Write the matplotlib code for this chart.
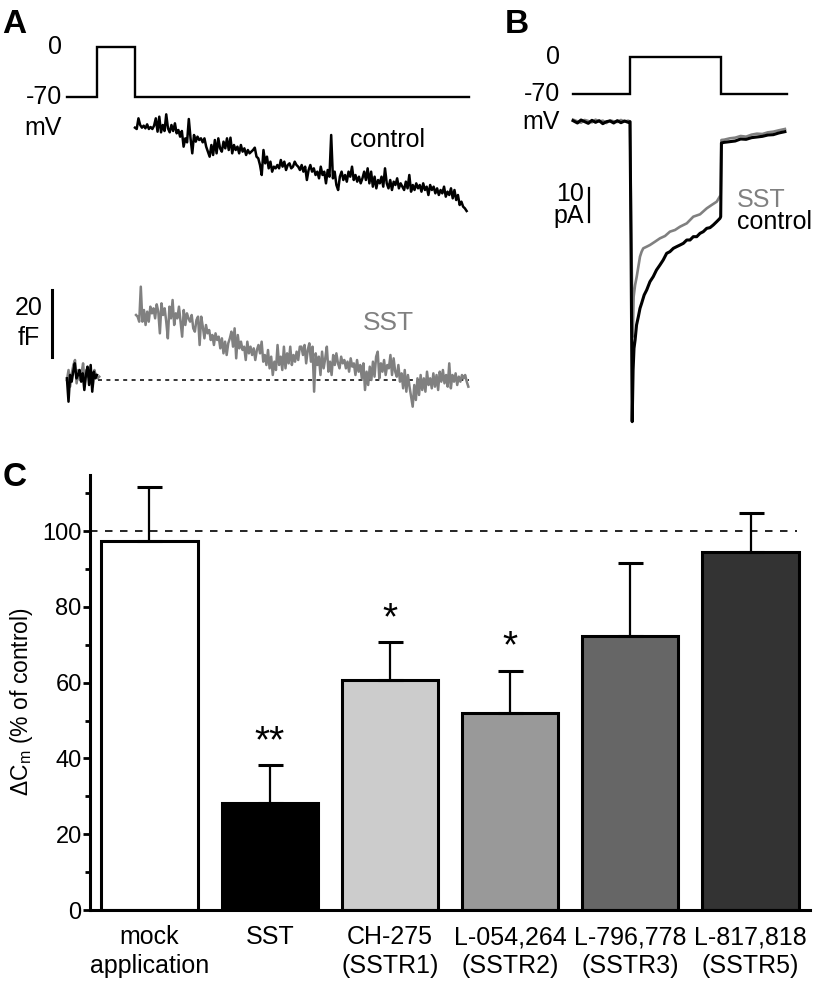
import numpy as np
import matplotlib
matplotlib.use('Agg')
import matplotlib.pyplot as plt

plt.rcParams['font.family'] = ['Liberation Sans', 'DejaVu Sans']
plt.rcParams['mathtext.fontset'] = 'custom'
plt.rcParams['mathtext.rm'] = 'Liberation Sans'
plt.rcParams['mathtext.it'] = 'Liberation Sans:italic'

GRAY = '#808080'
FS = 18  # trace annotation size

# ---------------- panel A: capacitance traces (fF), time in s ----------------
stim_a_t = [-0.4, 0.0, 0.0, 0.5, 0.5, 4.95]
stim_a_mv = [-70, -70, 0, 0, -70, -70]

pre_ctrl_a = [0.5, -6.5, 1.5, -0.5, 2.5, 5.0, 0.5, 1.5, 3.0, -0.5, 2.0, -3.0, 1.5,
              4.0, -1.5, 4.5, -3.5, 2.5, 0.5, 1.5]
pre_sst_a = [0.0, 3.0, -2.0, 2.0, 4.5, 6.0, -1.0, 3.0, 0.0, 2.0, 5.0, -1.0, 3.0,
             1.0, 2.0, 0.0, -2.0, 3.0, 1.0, 0.5, 1.0]

ctrl_a = [75.7, 75.3, 78.5, 76.5, 75.7, 76.3, 75.5, 76.7, 75.3, 75.9, 75.3, 76.3, 78.5,
          74.5, 79.0, 74.3, 76.5, 74.7, 79.7, 75.5, 74.3, 76.5, 74.7, 77.0, 74.0, 75.0,
          73.0, 74.7, 70.0, 72.5, 71.3, 78.3, 72.5, 68.0, 73.5, 71.5, 73.0, 72.0, 72.5,
          71.3, 72.5, 70.0, 68.5, 67.0, 70.5, 67.5, 72.0, 68.0, 72.5, 69.5, 68.5, 71.5,
          69.5, 72.5, 69.0, 72.7, 68.0, 70.5, 69.0, 70.0, 68.0, 70.5, 68.5, 69.5, 67.5,
          69.0, 68.0, 68.5, 69.0, 69.7, 67.0, 66.5, 64.5, 61.5, 69.0, 65.0, 67.0, 63.5,
          65.5, 62.5, 64.0, 63.5, 64.5, 63.5, 66.0, 64.0, 65.5, 63.0, 64.5, 65.0, 63.5,
          64.0, 65.5,
          64.5, 64.0, 63.0, 64.5, 62.5, 64.0, 60.0, 63.0, 64.5, 62.5, 63.5, 61.5, 62.5,
          60.5, 64.0, 61.5, 62.5, 59.0, 63.0, 61.0, 73.5, 60.5, 62.5, 58.5, 57.0, 61.0,
          62.5, 60.0, 61.5, 59.5, 62.5, 61.0, 64.0, 60.0, 61.5, 59.5, 61.0, 59.0, 60.5,
          62.5, 60.0, 63.5, 59.0, 62.5, 58.0, 61.0, 57.5, 60.0, 59.0, 61.0, 58.0, 63.5,
          59.0, 57.5, 60.0, 57.0, 59.5, 58.5, 60.5, 57.5, 59.0, 58.0, 57.0, 59.5, 57.5,
          61.5, 56.5, 58.5, 57.0, 59.0, 57.5, 58.5, 56.5, 59.0, 57.0, 58.0, 55.5, 58.5,
          57.0, 58.0, 56.0, 57.5, 55.5, 57.0, 56.0, 58.0, 55.0, 56.5, 55.5, 57.5, 54.5,
          57.0, 54.0, 55.5, 52.5, 53.5, 52.0, 51.5, 50.7]

sst_a = [19.5, 19.0, 17.5, 28.0, 17.5, 21.0, 16.5, 20.5, 17.5, 22.0, 20.0, 21.5, 18.5,
         22.7, 20.5, 14.0, 23.0, 19.5, 21.5, 17.5, 12.5, 22.0, 18.5, 24.0, 16.5, 20.0,
         18.5, 22.0, 17.5, 13.0, 21.0, 16.5, 20.0, 18.5, 17.5, 19.5, 15.5, 14.5, 18.0,
         19.0, 10.5, 19.0, 16.0, 12.5, 16.5, 14.0, 15.0, 12.0, 13.5, 10.5, 14.0, 12.0,
         13.0, 9.5, 12.5, 8.0, 11.5, 7.5, 11.0, 12.5, 14.5, 10.0, 15.5, 6.5, 13.5, 9.5,
         11.5, 9.0, 10.0, 6.0, 11.5, 8.0, 10.0, 7.5, 9.5, 6.0, 9.0, 10.5, 8.0, 11.5, 5.5,
         7.5, 4.5, 9.0, 3.5, 7.0, 1.5, 5.5, 3.0, 10.5, 4.5, 7.0, 3.0, 10.0, 3.5, 8.0, 5.0,
         10.0, 4.5, 7.5, 5.5, 8.5, 6.0, 10.0,
         10.0, 7.5, 10.5, 5.0, 9.0, 11.0, 5.5, 10.0, -3.5, 8.0, 4.5, 7.0, 1.5, 8.5, 3.5,
         6.5, 10.0, 2.5, 5.5, 1.5, 7.5, 4.5, 8.0, 5.0, 3.5, 7.0, 5.0, 6.0, 3.5, 5.5, 2.5,
         6.5, 4.0, 5.0, 1.5, 6.0, 2.5, 4.5, 0.5, 5.0, -3.0, 2.5, -1.5, 4.0, 0.0, 5.5, 1.0,
         7.0, 8.5, 0.5, 5.0, 2.5, 6.0, 1.5, 4.5, 3.5, 7.5, 1.5, 6.5, 2.5, 1.0, 4.5, -0.5,
         2.0, -2.5, 3.0, -3.5, 1.5, -2.0, -5.0, -8.0, -1.5, -6.0, 0.5, -4.5, 1.5, -3.0,
         0.5, -3.5, 2.5, -1.5, 0.5, -2.5, 2.0, -2.0, 1.5, -3.0, 2.5, -0.5, 3.0, -1.0, 1.5,
         -2.0, 5.0, -2.5, 1.5, -0.5, 2.0, -1.5, 1.0, -0.5, 1.5, 0.5, 1.5, -0.5, -2.0]

# ---------------- panel B: Ca2+ currents (pA), time in ms ----------------
stim_b_t = [-31.3, 0, 0, 50, 50, 86.7]
stim_b_mv = [-70, -70, 0, 0, -70, -70]

ctrl_b_t = [-31.4, -29, -27, -25, -23, -21, -19, -17, -15, -13, -11, -9, -7, -5, -3, -1, 0,
            0.6, 1.2, 1.7, 2.2, 2.8, 3.6, 4.6, 5.5, 6.4, 7.8, 9.2, 11.0, 12.8, 14.6, 16.5,
            18.3, 20.2, 22.0, 23.9, 25.7, 27.6, 29.4, 31.3, 33.1, 34.9, 36.8, 38.6, 40.4,
            42.3, 44.1, 45.9, 47.8, 49.6, 50.0,
            50.4, 52, 55, 58, 61, 64, 67, 70, 73, 76, 79, 82, 85.4]
ctrl_b = [0.3, -0.4, 0.5, 0.0, -0.5, 0.4, -0.2, 0.3, -0.6, 0.0, 0.2, -0.4, 0.3, -0.3, 0.2,
          -0.2, 0.0,
          -40, -90, -74.5, -68, -65.5, -61, -58.5, -56, -54.5, -52, -50.5, -48, -46.5,
          -44.5, -43, -41.5, -39.5, -39, -38, -37.5, -37, -36.5, -35.5, -35.5, -34.5,
          -34.5, -33.5, -33, -32, -31.8, -31, -30, -29, -28.5,
          -6.4, -6.2, -6.0, -5.8, -5.2, -5.3, -4.8, -4.6, -4.4, -4.0, -3.9, -3.4, -3.0]

sst_b_t = [-31.4, -29, -27, -25, -23, -21, -19, -17, -15, -13, -11, -9, -7, -5, -3, -1, 0,
           0.6, 1.5, 2.0, 2.8, 3.7, 4.6, 5.5, 6.4, 7.3, 9.2, 11.0, 13.8, 16.5, 19.3, 22.0,
           24.8, 27.6, 31.3, 34.9, 38.6, 42.3, 45.0, 47.8, 50.0,
           50.4, 52, 55, 58, 61, 64, 67, 70, 73, 76, 79, 82, 85.4]
sst_b = [0.6, 0.1, -0.3, 0.5, 0.2, -0.2, 0.6, 0.0, 0.3, -0.4, 0.4, 0.1, -0.1, 0.5, 0.0,
         0.3, 0.0,
         -30, -64.5, -52.5, -49, -46.5, -43.5, -40.5, -39, -38, -37.5, -37, -36, -35,
         -34.3, -33, -32.5, -31.5, -30.5, -28.5, -27.8, -26, -25, -24, -22,
         -5.5, -5.4, -5.0, -4.8, -4.3, -4.5, -3.9, -3.6, -3.7, -3.2, -3.0, -2.6, -2.2]

# ---------------- panel C: bar chart ----------------
groups = ['mock\napplication', 'SST', 'CH-275\n(SSTR1)', 'L-054,264\n(SSTR2)',
          'L-796,778\n(SSTR3)', 'L-817,818\n(SSTR5)']
means = [97.4, 28.2, 60.8, 51.9, 72.3, 94.5]
sems = [14.3, 10.1, 10.0, 11.3, 19.4, 10.2]
signif = ['', '**', '*', '*', '', '']
bar_colors = ['white', 'black', '#cccccc', '#999999', '#666666', '#333333']

W, H = 815, 997
fig = plt.figure(figsize=(W / 100, H / 100), dpi=100)


def px_axes(x0, y0, x1, y1):
    # axes placed by pixel box (top-left origin)
    ax = fig.add_axes([x0 / W, 1 - y1 / H, (x1 - x0) / W, (y1 - y0) / H])
    ax.set_axis_off()
    return ax


def fig_text(x, y, s, **kw):
    fig.text(x / W, 1 - y / H, s, **kw)


# panel letters
fig_text(2, 33, 'A', fontsize=24, fontweight='bold', va='baseline')
fig_text(505, 33, 'B', fontsize=24, fontweight='bold', va='baseline')
fig_text(3, 486, 'C', fontsize=24, fontweight='bold', va='baseline')

# ---- A ----
xl_a = (-0.891, 5.093)
axv = px_axes(30, 40, 480, 105)
axv.set_xlim(*xl_a)
axv.set_ylim(-81.6, 9.4)
axv.plot(stim_a_t, stim_a_mv, color='black', lw=1.7, solid_joinstyle='miter')
axv.text(-0.465, 0, '0', ha='right', va='center', fontsize=FS)
axv.text(-0.465, -70, '-70', ha='right', va='center', fontsize=FS)
axv.text(-0.465, -113.8, 'mV', ha='right', va='center', fontsize=FS)

axc = px_axes(30, 105, 480, 420)
axc.set_xlim(*xl_a)
axc.set_ylim(-12, 82.5)
axc.plot([0.01, 4.95], [0, 0], color='black', lw=1.1, linestyle=(0, (2.6, 2.9)))
axc.plot(np.linspace(-0.4, 0.03, len(pre_sst_a)), pre_sst_a, color=GRAY, lw=1.8)
axc.plot(np.linspace(-0.4, 0.0, len(pre_ctrl_a)), pre_ctrl_a, color='black', lw=1.8)
axc.plot(np.linspace(0.519, 4.938, len(sst_a)), sst_a, color=GRAY, lw=1.8)
axc.plot(np.linspace(0.505, 4.915, len(ctrl_a)), ctrl_a, color='black', lw=1.8)
axc.plot([-0.594, -0.594], [7, 27], color='black', lw=2.2)
axc.text(-0.904, 21.6, '20', ha='center', va='center', fontsize=FS)
axc.text(-0.904, 12.6, 'fF', ha='center', va='center', fontsize=FS)
axc.text(3.364, 72, 'control', ha='left', va='center', fontsize=FS)
axc.text(3.88, 17.1, 'SST', ha='center', va='center', fontsize=FS + 1, color=GRAY)

# ---- B ----
xl_b = (-77.2, 102.0)
axbv = px_axes(490, 40, 815, 105)
axbv.set_xlim(*xl_b)
axbv.set_ylim(-90.2, 32.7)
axbv.plot(stim_b_t, stim_b_mv, color='black', lw=1.7, solid_joinstyle='miter')
axbv.text(-38.6, 0, '0', ha='right', va='center', fontsize=FS)
axbv.text(-38.6, -70, '-70', ha='right', va='center', fontsize=FS)
axbv.text(-38.6, -122.4, 'mV', ha='right', va='center', fontsize=FS)

axb = px_axes(490, 105, 815, 430)
axb.set_xlim(*xl_b)
axb.set_ylim(-92.5, 5.0)
axb.plot(sst_b_t, sst_b, color=GRAY, lw=1.9)
axb.plot(ctrl_b_t, ctrl_b, color='black', lw=2.2)
axb.plot([-22.4, -22.4], [-20, -30], color='black', lw=1.6)
axb.text(-25.4, -21.7, '10', ha='right', va='center', fontsize=FS)
axb.text(-25.4, -28.3, 'pA', ha='right', va='center', fontsize=FS)
axb.text(58.8, -23.5, 'SST', ha='left', va='center', fontsize=FS, color=GRAY)
axb.text(58.8, -30.0, 'control', ha='left', va='center', fontsize=FS)

# ---- C ----
ax = fig.add_axes([90 / W, 1 - 910 / H, 720 / W, 435 / H])
x = np.arange(len(groups))
ax.plot([-0.495, 5.387], [100, 100], color='black', lw=1.2, dashes=(4.5, 4.5), zorder=0.5)
ax.bar(x, means, width=0.8, color=bar_colors, edgecolor='black', linewidth=2.2, zorder=1)
ax.errorbar(x, means, yerr=[np.zeros(len(x)), sems], fmt='none', ecolor='black',
            elinewidth=1.6, capsize=9, capthick=2.2, zorder=2)
for i, s in enumerate(signif):
    if s:
        ax.text(x[i], means[i] + sems[i] + 6, s, ha='center', va='center', fontsize=28)

ax.set_xlim(-0.495, 5.495)
ax.set_ylim(0, 114.8)
ax.spines['top'].set_visible(False)
ax.spines['right'].set_visible(False)
ax.spines['left'].set_linewidth(2.2)
ax.spines['bottom'].set_linewidth(2.2)
ax.set_yticks(np.arange(0, 101, 20))
ax.set_yticks(np.arange(10, 115, 10), minor=True)
ax.tick_params(axis='y', which='major', direction='out', length=5, width=2, pad=1,
               labelsize=17)
ax.tick_params(axis='y', which='minor', direction='out', length=3.6, width=2)
ax.set_xticks(x)
ax.set_xticklabels(groups, fontsize=18, linespacing=1.25)
ax.tick_params(axis='x', length=0, pad=11)
ax.set_ylabel('ΔC$_\\mathrm{m}$ (% of control)', fontsize=16.5)
ax.yaxis.set_label_coords(-0.077, 0.48)

fig.savefig('out.png', dpi=100)
